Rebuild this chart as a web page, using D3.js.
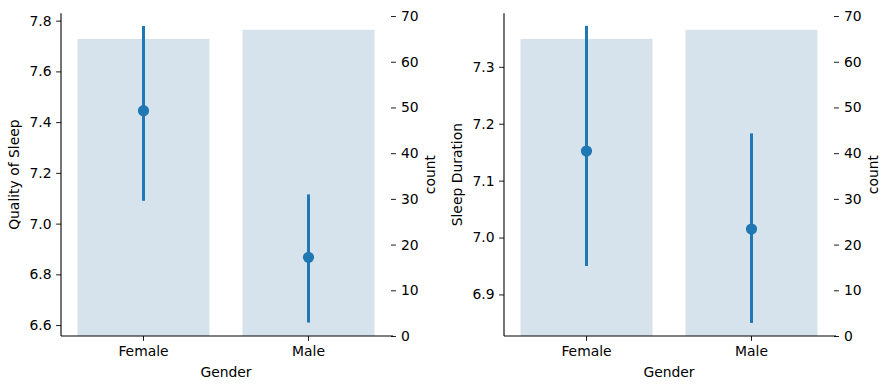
<!DOCTYPE html>
<html>
<head>
<meta charset="utf-8">
<script src="https://cdn.jsdelivr.net/npm/d3@7"></script>
<style>
  body { margin: 0; background: #fff; }
  svg text { font-family: "DejaVu Sans", sans-serif; fill: #000; }
</style>
</head>
<body>
<div id="chart"></div>
<script>
// values
const genders = ["Female", "Male"];
const genderCounts = [65, 67];

const qualityMean = [7.445, 6.867];
const qualityLow = [7.09, 6.61];
const qualityHigh = [7.779, 7.115];
const qualityTicks = [6.6, 6.8, 7.0, 7.2, 7.4, 7.6, 7.8];

const durationMean = [7.152, 7.015];
const durationLow = [6.95, 6.85];
const durationHigh = [7.372, 7.183];
const durationTicks = [6.9, 7.0, 7.1, 7.2, 7.3];

const countTicks = [0, 10, 20, 30, 40, 50, 60, 70];

const width = 889, height = 389;
const plotTop = 13.3, plotBottom = 336;
const plotW = 330;
const fontSize = "13.9px";

const barColor = "#d6e2ec";
const pointColor = "#1f77b4";

const svg = d3.select("#chart")
    .append("svg")
    .attr("width", width)
    .attr("height", height);

function drawPanel(left, yLabel, means, lows, highs, yDomain, yTicks) {
    const g = svg.append("g")
        .attr("transform", "translate(" + left + ",0)");

    const x = d3.scaleBand()
        .domain(genders)
        .range([0, plotW])
        .paddingInner(0.2)
        .paddingOuter(0.1);

    const y = d3.scaleLinear()
        .domain(yDomain)
        .range([plotBottom, plotTop]);

    const yCount = d3.scaleLinear()
        .domain([0, 70.6])
        .range([plotBottom, plotTop]);

    // count bars (twin axis)
    g.append("g")
        .selectAll("rect")
        .data(genders)
        .join("rect")
        .attr("x", d => x(d))
        .attr("width", x.bandwidth())
        .attr("y", (d, i) => yCount(genderCounts[i]))
        .attr("height", (d, i) => plotBottom - yCount(genderCounts[i]))
        .attr("fill", barColor);

    // confidence intervals
    g.append("g")
        .selectAll("line")
        .data(genders)
        .join("line")
        .attr("x1", d => x(d) + x.bandwidth() / 2)
        .attr("x2", d => x(d) + x.bandwidth() / 2)
        .attr("y1", (d, i) => y(lows[i]))
        .attr("y2", (d, i) => y(highs[i]))
        .attr("stroke", pointColor)
        .attr("stroke-width", 3);

    // mean points
    g.append("g")
        .selectAll("circle")
        .data(genders)
        .join("circle")
        .attr("cx", d => x(d) + x.bandwidth() / 2)
        .attr("cy", (d, i) => y(means[i]))
        .attr("r", 5.6)
        .attr("fill", pointColor);

    // left axis
    const yAxis = g.append("g")
        .call(d3.axisLeft(y).tickValues(yTicks).tickFormat(d3.format(".1f"))
            .tickSize(4.9).tickPadding(4.5).tickSizeOuter(0));
    yAxis.select(".domain").attr("d", "M0," + plotTop + "V" + plotBottom);

    // right axis for counts, no spine
    const cAxis = g.append("g")
        .attr("transform", "translate(" + plotW + ",0)")
        .call(d3.axisRight(yCount).tickValues(countTicks)
            .tickSize(4.9).tickPadding(5).tickSizeOuter(0));
    cAxis.select(".domain").remove();

    // bottom axis
    const xAxis = g.append("g")
        .attr("transform", "translate(0," + plotBottom + ")")
        .call(d3.axisBottom(x).tickSize(4.9).tickPadding(5).tickSizeOuter(0));
    xAxis.select(".domain").attr("d", "M0,0H" + (plotW + 2));

    [yAxis, cAxis, xAxis].forEach(a => {
        a.selectAll("text").style("font-size", fontSize);
        a.selectAll("line").attr("stroke", "#000").attr("stroke-width", 0.9);
        a.selectAll(".domain").attr("stroke", "#000").attr("stroke-width", 1.1);
    });

    // labels
    g.append("text")
        .attr("x", plotW / 2)
        .attr("y", 377)
        .attr("text-anchor", "middle")
        .style("font-size", fontSize)
        .text("Gender");

    g.append("text")
        .attr("transform", "translate(-42," + ((plotTop + plotBottom) / 2) + ") rotate(-90)")
        .attr("text-anchor", "middle")
        .style("font-size", fontSize)
        .text(yLabel);

    g.append("text")
        .attr("transform", "translate(" + (plotW + 44) + "," + ((plotTop + plotBottom) / 2) + ") rotate(-90)")
        .attr("text-anchor", "middle")
        .style("font-size", fontSize)
        .text("count");
}

drawPanel(61, "Quality of Sleep", qualityMean, qualityLow, qualityHigh, [6.557, 7.829], qualityTicks);
drawPanel(504, "Sleep Duration", durationMean, durationLow, durationHigh, [6.827, 7.394], durationTicks);
</script>
</body>
</html>
